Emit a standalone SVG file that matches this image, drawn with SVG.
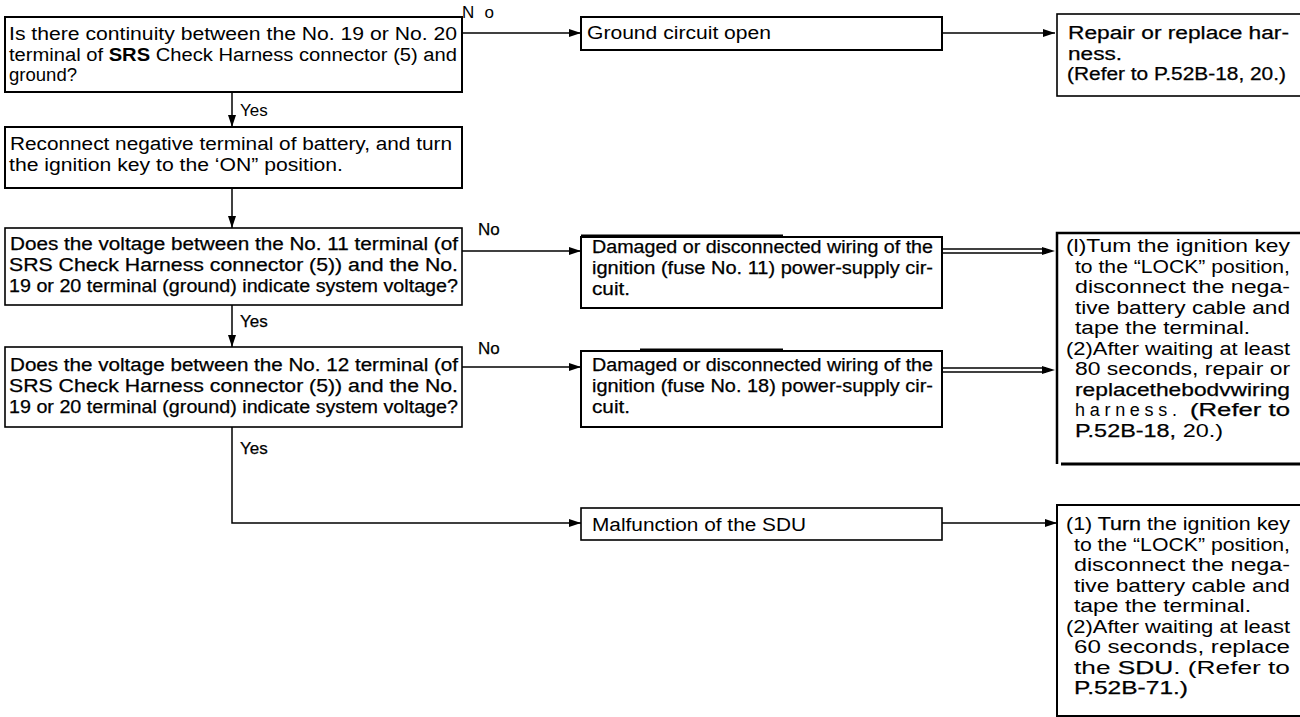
<svg xmlns="http://www.w3.org/2000/svg" width="1300" height="717" viewBox="0 0 1300 717">
<defs>
<style>
text{font-family:"Liberation Sans",Arial,sans-serif;font-size:18px;fill:#000}
.lbl{font-size:17px}
.box{fill:#fff;stroke:#000;stroke-width:2}
.thin{fill:#fff;stroke:#000;stroke-width:1.6}
.ln{fill:none;stroke:#000;stroke-width:1.5}
.heavy{stroke:#000;stroke-width:0.25}
</style>
<marker id="ah" viewBox="0 0 12 8" refX="12" refY="4" markerWidth="12" markerHeight="8" markerUnits="userSpaceOnUse" orient="auto">
<path d="M0,0 L12,4 L0,8 z" fill="#000"/>
</marker>
</defs>
<rect width="1300" height="717" fill="#fff"/>

<g id="connectors">
<line class="ln" x1="462" y1="33" x2="581" y2="33" marker-end="url(#ah)"/>
<line class="ln" x1="942" y1="33" x2="1055" y2="33" marker-end="url(#ah)"/>
<line class="ln" x1="232" y1="92" x2="232" y2="127" marker-end="url(#ah)"/>
<line class="ln" x1="232" y1="188" x2="232" y2="228" marker-end="url(#ah)"/>
<line class="ln" x1="462" y1="251" x2="581" y2="251" marker-end="url(#ah)"/>
<line class="ln" x1="942" y1="249" x2="1046" y2="249"/>
<line class="ln" x1="942" y1="253" x2="1046" y2="253"/>
<path d="M1042,247 L1055,251 L1042,255 z" fill="#000"/>
<line class="ln" x1="232" y1="305" x2="232" y2="347" marker-end="url(#ah)"/>
<line class="ln" x1="462" y1="367" x2="581" y2="367" marker-end="url(#ah)"/>
<line class="ln" x1="942" y1="368" x2="1046" y2="368"/>
<line class="ln" x1="942" y1="372" x2="1046" y2="372"/>
<path d="M1042,366 L1055,370 L1042,374 z" fill="#000"/>
<polyline class="ln" points="232,427 232,523 581,523" marker-end="url(#ah)"/>
<line class="ln" x1="942" y1="523" x2="1057" y2="523" marker-end="url(#ah)"/>
<text class="lbl" x="462" y="18" textLength="32" lengthAdjust="spacing">N o</text>
<text class="lbl" x="240" y="116">Yes</text>
<text class="lbl heavy" x="478" y="235">No</text>
<text class="lbl heavy" x="240" y="327">Yes</text>
<text class="lbl heavy" x="478" y="354">No</text>
<text class="lbl heavy" x="240" y="454">Yes</text>
</g>

<g id="q1">
<rect class="box" x="5" y="17" width="457" height="75"/>
<text x="9" y="40" textLength="448" lengthAdjust="spacingAndGlyphs">Is there continuity between the No. 19 or No. 20</text>
<text x="9" y="60.5" textLength="448" lengthAdjust="spacingAndGlyphs">terminal of <tspan font-weight="bold">SRS</tspan> Check Harness connector (5) and</text>
<text x="9" y="81" textLength="68" lengthAdjust="spacingAndGlyphs">ground?</text>
</g>

<g id="r1">
<rect class="box" x="581" y="17" width="361" height="33"/>
<text x="587" y="39" textLength="184" lengthAdjust="spacingAndGlyphs">Ground circuit open</text>
</g>

<g id="a1">
<rect class="thin" x="1057" y="14" width="250" height="82"/>
<text class="heavy" x="1068" y="39" textLength="221" lengthAdjust="spacingAndGlyphs">Repair or replace har-</text>
<text class="heavy" x="1068" y="59.5" textLength="54" lengthAdjust="spacingAndGlyphs">ness.</text>
<text class="heavy" x="1067" y="80" textLength="219" lengthAdjust="spacingAndGlyphs">(Refer to P.52B-18, 20.)</text>
</g>

<g id="s2">
<rect class="box" x="5" y="127" width="457" height="61"/>
<text x="10" y="150" textLength="442" lengthAdjust="spacingAndGlyphs">Reconnect negative terminal of battery, and turn</text>
<text x="9" y="171" textLength="334" lengthAdjust="spacingAndGlyphs">the ignition key to the ‘ON” position.</text>
</g>

<g id="q3">
<rect class="thin" x="5" y="228" width="457" height="77"/>
<text class="heavy" x="10" y="250" textLength="448" lengthAdjust="spacingAndGlyphs">Does the voltage between the No. 11 terminal (of</text>
<text class="heavy" x="9" y="271" textLength="449" lengthAdjust="spacingAndGlyphs">SRS Check Harness connector (5)) and the No.</text>
<text class="heavy" x="9" y="292" textLength="449" lengthAdjust="spacingAndGlyphs">19 or 20 terminal (ground) indicate system voltage?</text>
</g>

<g id="r3">
<rect class="box" x="581" y="237" width="361" height="71"/>
<line x1="581" y1="236" x2="783" y2="236" stroke="#000" stroke-width="3"/>
<text class="heavy" x="592" y="253" textLength="341" lengthAdjust="spacingAndGlyphs">Damaged or disconnected wiring of the</text>
<text class="heavy" x="592" y="274" textLength="341" lengthAdjust="spacingAndGlyphs">ignition (fuse No. 11) power-supply cir-</text>
<text class="heavy" x="592" y="295" textLength="38" lengthAdjust="spacingAndGlyphs">cuit.</text>
</g>

<g id="a3">
<polyline fill="none" stroke="#000" stroke-width="2.5" points="1300,233 1057,233 1057,464"/>
<line x1="1061" y1="464" x2="1300" y2="464" stroke="#000" stroke-width="3"/>
<text x="1066" y="252" textLength="224" lengthAdjust="spacingAndGlyphs">(l)Tum the ignition key</text>
<text x="1075" y="272.5" textLength="215" lengthAdjust="spacingAndGlyphs">to the “LOCK” position,</text>
<text x="1075" y="293" textLength="215" lengthAdjust="spacingAndGlyphs">disconnect the nega-</text>
<text x="1075" y="313.5" textLength="215" lengthAdjust="spacingAndGlyphs">tive battery cable and</text>
<text x="1075" y="334" textLength="175" lengthAdjust="spacingAndGlyphs">tape the terminal.</text>
<text x="1066" y="354.5" textLength="224" lengthAdjust="spacingAndGlyphs">(2)After waiting at least</text>
<text x="1075" y="375" textLength="215" lengthAdjust="spacingAndGlyphs">80 seconds, repair or</text>
<text class="heavy" x="1075" y="395.5" textLength="215" lengthAdjust="spacingAndGlyphs">replacethebodvwiring</text>
<text x="1075" y="416" textLength="102" lengthAdjust="spacing">harness.</text>
<text class="heavy" x="1190" y="416" textLength="100" lengthAdjust="spacingAndGlyphs">(Refer to</text>
<text x="1075" y="436.5" textLength="148" lengthAdjust="spacingAndGlyphs"><tspan class="heavy">P.52B-18,</tspan> 20.)</text>
</g>

<g id="q4">
<rect class="thin" x="5" y="347" width="457" height="80"/>
<text class="heavy" x="10" y="371" textLength="448" lengthAdjust="spacingAndGlyphs">Does the voltage between the No. 12 terminal (of</text>
<text class="heavy" x="9" y="392" textLength="449" lengthAdjust="spacingAndGlyphs">SRS Check Harness connector (5)) and the No.</text>
<text class="heavy" x="9" y="413" textLength="449" lengthAdjust="spacingAndGlyphs">19 or 20 terminal (ground) indicate system voltage?</text>
</g>

<g id="r4">
<rect class="box" x="581" y="351" width="361" height="76"/>
<line x1="640" y1="350" x2="783" y2="350" stroke="#000" stroke-width="3"/>
<text class="heavy" x="592" y="371" textLength="341" lengthAdjust="spacingAndGlyphs">Damaged or disconnected wiring of the</text>
<text class="heavy" x="592" y="392" textLength="341" lengthAdjust="spacingAndGlyphs">ignition (fuse No. 18) power-supply cir-</text>
<text class="heavy" x="592" y="413" textLength="38" lengthAdjust="spacingAndGlyphs">cuit.</text>
</g>

<g id="r5">
<rect class="thin" x="581" y="508" width="361" height="32"/>
<text x="592" y="531" textLength="214" lengthAdjust="spacingAndGlyphs">Malfunction of the SDU</text>
</g>

<g id="a5">
<rect class="box" x="1057" y="505" width="250" height="211"/>
<text x="1066" y="530" textLength="224" lengthAdjust="spacingAndGlyphs">(1) <tspan class="heavy">Turn</tspan> the ignition key</text>
<text x="1074" y="550.5" textLength="216" lengthAdjust="spacingAndGlyphs">to the “LOCK” position,</text>
<text x="1074" y="571" textLength="216" lengthAdjust="spacingAndGlyphs">disconnect the nega-</text>
<text x="1074" y="591.5" textLength="216" lengthAdjust="spacingAndGlyphs">tive battery cable and</text>
<text x="1074" y="612" textLength="177" lengthAdjust="spacingAndGlyphs">tape the terminal.</text>
<text x="1066" y="632.5" textLength="224" lengthAdjust="spacingAndGlyphs">(2)After waiting at least</text>
<text x="1074" y="653" textLength="216" lengthAdjust="spacingAndGlyphs">60 seconds, replace</text>
<text x="1074" y="673.5" textLength="216" lengthAdjust="spacingAndGlyphs">the <tspan class="heavy">SDU</tspan>. (Refer to</text>
<text class="heavy" x="1074" y="694" textLength="114" lengthAdjust="spacingAndGlyphs">P.52B-71.)</text>
</g>
</svg>
